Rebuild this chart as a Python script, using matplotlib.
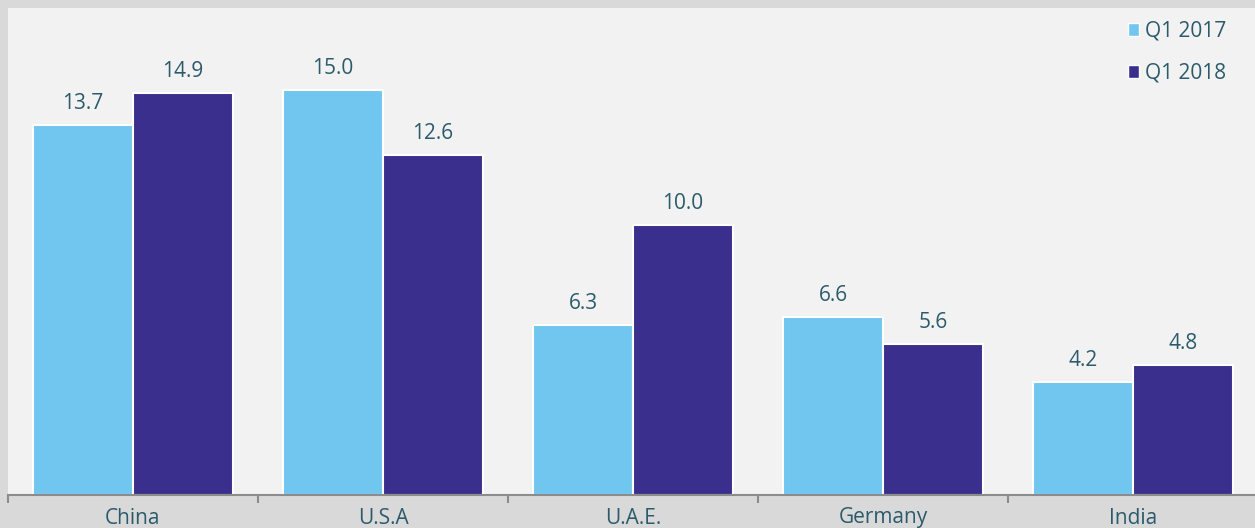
import numpy as np
import matplotlib
matplotlib.use("Agg")
from matplotlib import pyplot as plt
from matplotlib.patches import Patch

countries = ["China", "U.S.A", "U.A.E.", "Germany", "India"]
q1_2017 = [13.7, 15.0, 6.3, 6.6, 4.2]
q1_2018 = [14.9, 12.6, 10.0, 5.6, 4.8]
series_names = ["Q1 2017", "Q1 2018"]

c17 = "#71c6ef"
c18 = "#3b2f8e"
txt = "#2b5b6b"

plt.rcParams["font.family"] = ["Open Sans", "DejaVu Sans"]

fig = plt.figure(figsize=(12.55, 5.28), dpi=100, facecolor="#d9d9d9")
ax = fig.add_axes([8 / 1255, 33 / 528, 1250 / 1255, 487 / 528])
ax.set_facecolor("#f2f2f2")

x = np.arange(len(countries))
w = 0.4
b1 = ax.bar(x - w / 2, q1_2017, w, color=c17, edgecolor="white", linewidth=1.5)
b2 = ax.bar(x + w / 2, q1_2018, w, color=c18, edgecolor="white", linewidth=1.5)

for bars, vals in ((b1, q1_2017), (b2, q1_2018)):
    for r, v in zip(bars, vals):
        ax.annotate(f"{v:.1f}", (r.get_x() + r.get_width() / 2, v),
                    xytext=(0, 8), textcoords="offset points",
                    ha="center", va="bottom", fontsize=15, color=txt)

ax.set_xlim(-0.5, len(countries) - 0.5)
ax.set_ylim(0, 18.04)
ax.set_yticks([])
for s in ["top", "right", "left"]:
    ax.spines[s].set_visible(False)
ax.spines["bottom"].set_color("#8c8c8c")
ax.spines["bottom"].set_linewidth(1.5)

ax.set_xticks(x)
ax.set_xticklabels(countries, fontsize=15, color=txt)
ax.tick_params(axis="x", length=0, pad=9)
ax.set_xticks(np.arange(len(countries)) - 0.5, minor=True)
ax.tick_params(axis="x", which="minor", length=6, width=1.5, color="#8c8c8c", direction="out")

handles = [Patch(facecolor=c17, edgecolor="white"), Patch(facecolor=c18, edgecolor="white")]
leg = ax.legend(handles, series_names, loc="upper right", frameon=False,
                fontsize=15, handlelength=0.55, handleheight=0.55, handletextpad=0.3,
                labelspacing=1.0, bbox_to_anchor=(0.99, 1.012))
for t in leg.get_texts():
    t.set_color(txt)

fig.savefig("out.png", dpi=100, facecolor=fig.get_facecolor())
